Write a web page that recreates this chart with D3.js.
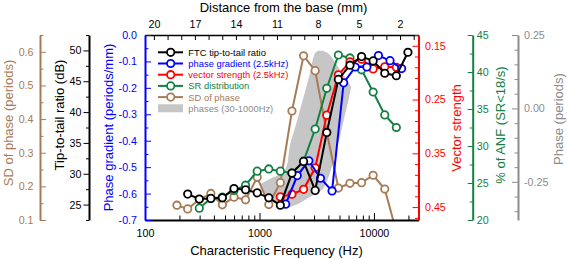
<!DOCTYPE html>
<html>
<head>
<meta charset="utf-8">
<script src="https://cdn.jsdelivr.net/npm/d3@7"></script>
<style>
  body { margin: 0; background: #fff; }
  svg { display: block; font-family: "Liberation Sans", Arial, sans-serif; }
</style>
</head>
<body>
<div id="chart"></div>
<script>
// --- values ---
const cfFTC = [236, 298, 376, 474, 599, 756, 955, 1206, 1522, 1922, 2428, 3066, 3871, 4889, 6172, 7794, 9840, 12430, 15690, 19810];
const ftcRatio = [26.7, 25.9, 26.0, 26.1, 27.6, 27.4, 26.9, 26.1, 24.9, 30.1, 32.0, 27.3, 36.7, 45.3, 47.6, 49.0, 48.3, 46.3, 45.9, 49.7];

const cfGradient = [1694, 2138, 2700, 3410, 4306, 5438, 6866, 8670, 10950, 13820, 17450];
const phaseGradient = [-0.640, -0.532, -0.476, -0.542, -0.590, -0.181, -0.121, -0.121, -0.078, -0.097, -0.127];

const cfVS = [1522, 1922, 2428, 3066, 3871, 4889, 6172, 7794, 9840, 12430, 15690];
const vectorStrength = [0.431, 0.426, 0.417, 0.377, 0.279, 0.204, 0.180, 0.175, 0.193, 0.189, 0.190];

const cfSR = [298, 376, 474, 599, 756, 955, 1206, 1522, 1922, 2428, 3066, 3871, 4889, 6172, 7794, 9840, 12430, 15690];
const lowSRPercent = [21.6, 22.9, 23.1, 24.0, 24.7, 26.6, 26.9, 26.6, 26.35, 27.95, 32.3, 37.8, 42.3, 41.9, 40.3, 37.3, 34.2, 32.5];

const cfSD = [190, 236, 298, 376, 474, 599, 756, 955, 1206, 1522, 1922, 2428, 3066, 3871, 4889, 6172, 7794, 9840, 12430, 15690];
const phaseSD = [0.144, 0.133, 0.161, 0.179, 0.145, 0.168, 0.160, 0.227, 0.146, 0.211, 0.424, 0.588, 0.544, 0.361, 0.195, 0.209, 0.211, 0.233, 0.192, 0.065];

// grey band: spread of phases (30-1000 Hz) on the right-hand phase axis
const cfBand = [1031, 1117, 1235, 1510, 1604, 1739, 1847, 2042, 2258, 2497, 2761, 3115, 3515, 4046, 4564, 5047, 5580, 6049, 6298];
const bandHigh = [-0.257, -0.249, -0.240, -0.225, -0.220, -0.193, -0.125, -0.067, -0.005, 0.056, 0.121, 0.192, 0.196, 0.185, 0.158, 0.131, 0.107, 0.086, 0.076];
const bandLow = [-0.268, -0.295, -0.312, -0.329, -0.332, -0.335, -0.336, -0.330, -0.322, -0.312, -0.302, -0.289, -0.278, -0.230, -0.159, -0.097, -0.022, 0.035, 0.070];

// ticks
const freqMajor = [100, 1000, 10000];
const freqMinor = [200, 300, 400, 500, 600, 700, 800, 900, 2000, 3000, 4000, 5000, 6000, 7000, 8000, 9000, 20000];
const distMajor = [20, 17, 14, 11, 8, 5, 2];
const distMinor = [19, 18, 16, 15, 13, 12, 10, 9, 7, 6, 4, 3, 1];
const gradMajor = [0, -0.1, -0.2, -0.3, -0.4, -0.5, -0.6, -0.7];
const gradMinor = [-0.05, -0.15, -0.25, -0.35, -0.45, -0.55, -0.65];
const ratioMajor = [25, 30, 35, 40, 45, 50];
const ratioMinor = [22.5, 27.5, 32.5, 37.5, 42.5, 47.5, 52.5];
const sdMajor = [0.1, 0.2, 0.3, 0.4, 0.5, 0.6];
const sdMinor = [0.15, 0.25, 0.35, 0.45, 0.55, 0.65];
const vsMajor = [0.15, 0.25, 0.35, 0.45];
const vsMinor = [0.13, 0.17, 0.19, 0.21, 0.23, 0.27, 0.29, 0.31, 0.33, 0.37, 0.39, 0.41, 0.43, 0.47];
const srMajor = [20, 25, 30, 35, 40, 45];
const srMinor = [22.5, 27.5, 32.5, 37.5, 42.5];
const phaseMajor = [0.25, 0, -0.25];
const phaseMinor = [0.2, 0.15, 0.1, 0.05, -0.05, -0.1, -0.15, -0.2, -0.3, -0.35];

const legendLabels = ["FTC tip-to-tail ratio", "phase gradient (2.5kHz)", "vector strength (2.5kHz)",
  "SR distribution", "SD of phase", "phases (30-1000Hz)"];

const C = { black: "#000", blue: "#0000ff", red: "#ff0000", green: "#138043", brown: "#a87b57", grey: "#8c8c8c", band: "#c6c6c6" };

const W = 567, H = 259;
const P = { left: 145, right: 418.5, top: 35, bottom: 220 };

const svg = d3.select("#chart").append("svg").attr("width", W).attr("height", H);

const x = d3.scaleLog().domain([100, 24500]).range([P.left, P.right]);
const xMM = d3.scaleLinear().domain([20.65, 0.65]).range([P.left, P.right]);
const yGrad = d3.scaleLinear().domain([-0.7, 0]).range([P.bottom, P.top]);
const yRatio = d3.scaleLinear().domain([22.5, 52.5]).range([P.bottom, P.top]);
const ySD = d3.scaleLinear().domain([0.1, 0.65]).range([P.bottom, P.top]);
const yVS = d3.scaleLinear().domain([0.13, 0.474]).range([P.top, P.bottom]);
const ySR = d3.scaleLinear().domain([20, 45]).range([P.bottom, P.top]);
const yPhase = d3.scaleLinear().domain([-0.38, 0.25]).range([P.bottom, P.top]);

function axis(make, scale, major, minor, o) {
  const g = svg.append("g").attr("transform", o.at).attr("color", o.color);
  g.append("g").call(make(scale).tickValues(minor).tickSize(o.minorLen).tickFormat(""))
    .call(s => s.select(".domain").remove());
  g.append("g").call(make(scale).tickValues(major).tickSize(o.len).tickSizeOuter(0)
      .tickPadding(o.pad).tickFormat(o.fmt))
    .call(s => s.select(".domain").attr("stroke-width", o.lw || 2))
    .call(s => s.selectAll("text").attr("font-size", 10.7).attr("font-family", null));
  return g;
}

// data layer first, axes drawn on top
const clip = svg.append("clipPath").attr("id", "plotclip").append("rect")
  .attr("x", P.left).attr("y", P.top).attr("width", P.right - P.left).attr("height", P.bottom - P.top);
const data = svg.append("g").attr("clip-path", "url(#plotclip)");

data.append("path")
  .datum(d3.range(cfBand.length))
  .attr("fill", C.band)
  .attr("d", d3.area().curve(d3.curveCatmullRom)
    .x(i => x(cfBand[i])).y0(i => yPhase(bandLow[i])).y1(i => yPhase(bandHigh[i])));

function series(cf, vals, yScale, color) {
  const pts = cf.map((f, i) => [x(f), yScale(vals[i])]);
  data.append("path").datum(pts).attr("fill", "none").attr("stroke", color)
    .attr("stroke-width", 2).attr("d", d3.line());
  data.append("g").selectAll("circle").data(pts).join("circle")
    .attr("cx", d => d[0]).attr("cy", d => d[1]).attr("r", 3.7)
    .attr("fill", "#fff").attr("stroke", color).attr("stroke-width", 1.8);
}
series(cfSD, phaseSD, ySD, C.brown);
series(cfSR, lowSRPercent, ySR, C.green);
series(cfVS, vectorStrength, yVS, C.red);
series(cfGradient, phaseGradient, yGrad, C.blue);
series(cfFTC, ftcRatio, yRatio, C.black);

// axes
axis(d3.axisBottom, x, freqMajor, freqMinor, { at: `translate(0,${P.bottom})`, color: C.black, len: -7, minorLen: -4.5, pad: 9, fmt: d => String(d) });
axis(d3.axisTop, xMM, distMajor, distMinor, { at: `translate(0,${P.top})`, color: C.black, len: -5, minorLen: -5, pad: 7, fmt: d => String(d), lw: 1.6 });
axis(d3.axisLeft, yGrad, gradMajor, gradMinor, { at: `translate(${P.left},0)`, color: C.blue, len: -6, minorLen: -3.5, pad: 8, fmt: d => d.toFixed(1) });
axis(d3.axisLeft, yRatio, ratioMajor, ratioMinor, { at: "translate(89,0)", color: C.black, len: 5.5, minorLen: 3, pad: 2, fmt: d => String(d) });
axis(d3.axisLeft, ySD, sdMajor, sdMinor, { at: "translate(40,0)", color: C.brown, len: -6, minorLen: -3.5, pad: 6.5, fmt: d => d.toFixed(1) });
axis(d3.axisRight, yVS, vsMajor, vsMinor, { at: `translate(${P.right},0)`, color: C.red, len: -6, minorLen: -3.5, pad: 6.5, fmt: d => d.toFixed(2) });
axis(d3.axisRight, ySR, srMajor, srMinor, { at: "translate(472.7,0)", color: C.green, len: -5, minorLen: -3, pad: 4, fmt: d => String(d) });
axis(d3.axisRight, yPhase, phaseMajor, phaseMinor, { at: "translate(518,0)", color: C.grey, len: -6, minorLen: -3.5, pad: 6, fmt: d => d.toFixed(2) });

// axis titles
svg.append("text").attr("x", 276.5).attr("y", 254.5).attr("text-anchor", "middle")
  .attr("font-size", 13).text("Characteristic Frequency (Hz)");
svg.append("text").attr("x", 283.5).attr("y", 11.5).attr("text-anchor", "middle")
  .attr("font-size", 13).text("Distance from the base (mm)");

const vTitles = [
  { x: 8.5, y: 123, color: C.brown, text: "SD of phase (periods)" },
  { x: 59, y: 115, color: C.black, text: "Tip-to-tail ratio (dB)" },
  { x: 108.5, y: 127.5, color: C.blue, text: "Phase gradient (periods/mm)" },
  { x: 456, y: 128, color: C.red, text: "Vector strength" },
  { x: 500, y: 125, color: C.green, text: "% of ANF (SR<18/s)" },
  { x: 558, y: 119, color: C.grey, text: "Phase (periods)" },
];
svg.selectAll("text.vt").data(vTitles).join("text").attr("class", "vt")
  .attr("transform", d => `translate(${d.x},${d.y}) rotate(-90)`)
  .attr("text-anchor", "middle").attr("dy", "0.35em").attr("font-size", 13)
  .attr("fill", d => d.color).text(d => d.text);

// legend
const legendColors = [C.black, C.blue, C.red, C.green, C.brown, C.grey];
const lg = svg.append("g");
legendLabels.forEach((label, i) => {
  const y = 52.3 + i * 11.2;
  if (i < 5) {
    lg.append("line").attr("x1", 158).attr("x2", 183).attr("y1", y).attr("y2", y)
      .attr("stroke", legendColors[i]).attr("stroke-width", 2);
    lg.append("circle").attr("cx", 170.7).attr("cy", y).attr("r", 3.7)
      .attr("fill", "#fff").attr("stroke", legendColors[i]).attr("stroke-width", 1.8);
  } else {
    lg.append("rect").attr("x", 158).attr("y", y - 4).attr("width", 25).attr("height", 8)
      .attr("fill", C.band);
  }
  lg.append("text").attr("x", 188.3).attr("y", y + 3.4).attr("font-size", 9.4)
    .attr("fill", legendColors[i]).text(label);
});
</script>
</body>
</html>
